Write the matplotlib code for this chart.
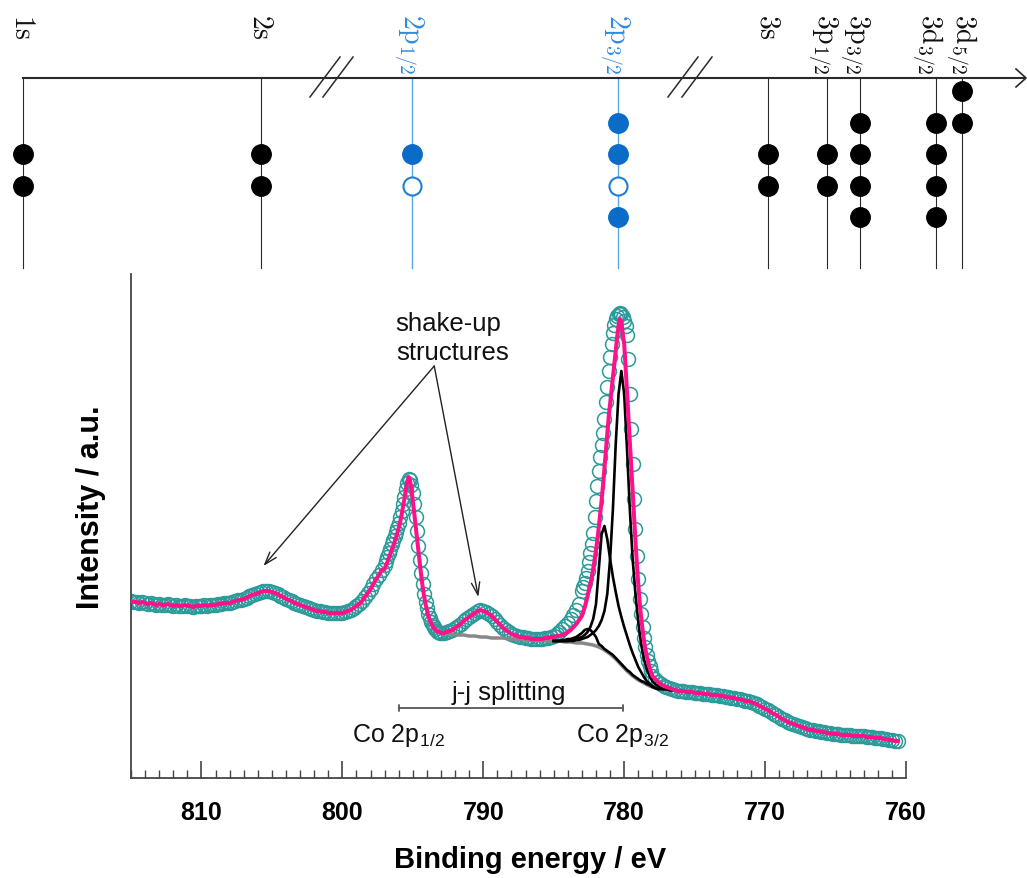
import numpy as np
import matplotlib
matplotlib.use("Agg")
import matplotlib.pyplot as plt
from matplotlib.ticker import MultipleLocator

plt.rcParams['mathtext.fontset'] = 'cm'
SANS = 'Liberation Sans'

# ---------------- data: Co 2p spectrum (intensity in a.u.) ----------------
# segment A: 815.0 -> 797.2 eV, step 0.2
data_A = [177, 176, 176, 175, 176, 175, 174, 175, 174, 173,
          174, 173, 173, 174, 173, 172, 173, 172, 172, 173,
          172, 172, 171, 172, 172, 172, 173, 172, 173, 173,
          173, 174, 174, 175, 175, 175, 176, 177, 178, 178,
          179, 180, 182, 183, 184, 185, 186, 187, 187, 187,
          186, 185, 184, 182, 181, 179, 178, 177, 175, 174,
          173, 172, 171, 170, 169, 168, 167, 167, 166, 166,
          165, 165, 165, 165, 165, 165, 166, 167, 168, 170,
          172, 174, 177, 181, 185, 189, 194, 199, 203, 208]
# segment B: 797.0 -> 793.1 eV, step 0.1
data_B = [213, 217, 221, 225, 229, 234, 238, 242, 246, 250,
          255, 261, 267, 274, 281, 289, 295, 299, 298, 293,
          285, 274, 261, 247, 232, 218, 205, 194, 184, 176,
          170, 164, 160, 156, 153, 151, 149, 147, 146, 145]
fit_B = [209, 213, 216, 220, 224, 228, 232, 236, 240, 245,
         250, 256, 263, 271, 279, 288, 296, 301, 298, 289,
         277, 265, 252, 239, 226, 214, 202, 191, 182, 174,
         168, 162, 158, 155, 152, 150, 148, 147, 146, 146]
# segment C: 793.0 -> 783.2 eV, step 0.2
data_C = [145, 145, 146, 147, 148, 150, 152, 154, 157, 159,
          161, 163, 165, 167, 168, 167, 166, 164, 162, 159,
          156, 153, 150, 148, 146, 144, 143, 142, 141, 141,
          140, 140, 139, 139, 139, 139, 139, 140, 140, 141,
          142, 144, 146, 149, 152, 155, 159, 163, 168, 174]
fit_C = [145, 145, 146, 147, 148, 150, 152, 154, 157, 159,
         161, 163, 165, 167, 168, 167, 166, 164, 162, 159,
         156, 153, 150, 148, 146, 144, 143, 142, 141, 141,
         140, 140, 139, 139, 139, 139, 139, 140, 140, 141,
         141, 142, 142, 143, 144, 146, 148, 151, 154, 158]
# segment D: 783.0 -> 778.1 eV, step 0.1
data_D = [187, 191, 195, 200, 207, 216, 225, 234, 245, 261,
          277, 292, 307, 321, 333, 345, 359, 376, 391, 407,
          421, 434, 445, 453, 459, 462, 464, 465, 464, 461,
          457, 452, 443, 419, 384, 349, 314, 279, 249, 222,
          199, 179, 164, 151, 140, 131, 123, 117, 112, 107]
fit_D = [162, 166, 171, 176, 182, 188, 194, 201, 209, 218,
         228, 239, 251, 264, 278, 293, 310, 327, 344, 361,
         374, 386, 399, 413, 427, 441, 452, 459, 457, 444,
         434, 411, 386, 361, 336, 311, 286, 261, 237, 214,
         194, 176, 161, 149, 138, 129, 122, 116, 111, 106]
# segment E: 778.0 -> 760.6 eV, step 0.2
data_E = [102, 99, 96, 94, 92, 91, 90, 89, 88, 87,
          87, 87, 86, 86, 86, 85, 85, 85, 84, 84,
          84, 83, 83, 83, 82, 82, 81, 81, 80, 80,
          79, 79, 78, 77, 77, 76, 75, 74, 72, 71,
          69, 68, 66, 64, 63, 61, 59, 58, 56, 55,
          54, 53, 52, 51, 50, 49, 48, 48, 47, 47,
          46, 46, 45, 45, 44, 44, 44, 43, 43, 43,
          43, 42, 42, 42, 42, 42, 41, 41, 41, 40,
          40, 40, 39, 39, 38, 38, 37, 37]

# fitted components (785.0 -> 776.6 eV, step 0.2), drawn on top of background
comp_1 = [137, 137, 137, 137, 137, 137, 137, 137, 138, 138,
          139, 140, 141, 143, 145, 148, 152, 158, 167, 184,
          219, 269, 334, 384, 407, 384, 329, 269, 219, 184,
          156, 134, 119, 109, 102, 97, 94, 92, 90, 89,
          89, 88, 88]
comp_2 = [137, 137, 137, 137, 137, 137, 138, 138, 139, 140,
          141, 143, 146, 151, 159, 174, 209, 244, 252, 239,
          219, 201, 186, 172, 161, 151, 142, 133, 125, 118,
          111, 106, 101, 97, 94, 92, 90, 89, 89, 89,
          89, 88, 88]
comp_3 = [137, 137, 137, 138, 138, 139, 139, 140, 141, 143,
          145, 148, 149, 148, 145, 141, 134, 132, 129, 127,
          125, 123, 120, 117, 114, 111, 108, 106, 103, 101,
          99, 97, 96, 94, 93, 91, 90, 89, 89, 89,
          89, 88, 88]
# Shirley background (793.4 -> 776.6 eV, step 0.4)
background = [147, 145, 144, 144, 143, 143, 142, 142, 141, 141,
              140, 140, 140, 139, 139, 139, 138, 138, 138, 138,
              137, 137, 137, 136, 136, 135, 135, 134, 133, 131,
              128, 124, 119, 113, 107, 102, 98, 95, 92, 90,
              89, 88, 88]

x_ticks = [810, 800, 790, 780, 770, 760]

# ---------------- data: energy level diagram ----------------
level_labels = [r'$\mathrm{1s}$', r'$\mathrm{2s}$', r'$\mathrm{2p}_{1/2}$',
                r'$\mathrm{2p}_{3/2}$', r'$\mathrm{3s}$', r'$\mathrm{3p}_{1/2}$',
                r'$\mathrm{3p}_{3/2}$', r'$\mathrm{3d}_{3/2}$', r'$\mathrm{3d}_{5/2}$']
level_occupation = [[1, 1], [1, 1], [1, 0], [1, 1, 0, 1], [1, 1], [1, 1],
                    [1, 1, 1, 1], [1, 1, 1, 1], [1, 1]]
level_first_slot = [2, 2, 2, 1, 2, 2, 1, 1, 0]
level_highlight = [0, 0, 1, 1, 0, 0, 0, 0, 0]

# ---------------- energy grids ----------------
E_A = 815.0 - 0.2 * np.arange(len(data_A))
E_B = 797.0 - 0.1 * np.arange(len(data_B))
E_C = 793.0 - 0.2 * np.arange(len(data_C))
E_D = 783.0 - 0.1 * np.arange(len(data_D))
E_E = 778.0 - 0.2 * np.arange(len(data_E))
energy = np.concatenate([E_A, E_B, E_C, E_D, E_E])
counts = np.concatenate([data_A, data_B, data_C, data_D, data_E])
envelope = np.concatenate([data_A, fit_B, fit_C, fit_D, data_E])
E_comp = 785.0 - 0.2 * np.arange(len(comp_1))
E_bg = 793.4 - 0.4 * np.arange(len(background))

# ---------------- figure ----------------
W, H = 1027, 879
fig = plt.figure(figsize=(W / 100, H / 100), dpi=100)

# top diagram in pixel coordinates
ax0 = fig.add_axes([0, 0, 1, 1])
ax0.set_xlim(0, W)
ax0.set_ylim(H, 0)
ax0.axis('off')

level_x = [22.7, 261, 411.7, 618.3, 768.3, 827.3, 860, 936, 962]
label_dx = [0, 0, -3, -3, 0, -4, -5, -9, -1]
slot_y = [92, 123.5, 155, 186.5, 218]
dark = '#2a2a2a'
blue_line = '#5aa6e6'
blue_dot = '#0a6cc6'
blue_text = '#2e8ae0'

ax0.plot([22, 1025], [79, 79], color=dark, lw=1.5, solid_capstyle='butt')
ax0.plot([1016, 1026, 1016], [70, 79, 88], color=dark, lw=1.2)
for x0 in (310, 323, 668, 682):
    ax0.plot([x0, x0 + 30], [98, 58], color=dark, lw=1.1)

for i, lab in enumerate(level_labels):
    x = level_x[i]
    hl = level_highlight[i]
    ax0.plot([x, x], [79, 269], color=blue_line if hl else dark,
             lw=1.0 if hl else 0.8, zorder=1)
    for k, occ in enumerate(level_occupation[i]):
        y = slot_y[level_first_slot[i] + k]
        if hl:
            if occ:
                ax0.plot(x, y, 'o', ms=14, mfc=blue_dot, mec=blue_dot, zorder=3)
            else:
                ax0.plot(x, y, 'o', ms=13, mfc='white', mec='#1f7ed2', mew=1.5, zorder=3)
        else:
            ax0.plot(x, y, 'o', ms=14, mfc='black', mec='black', zorder=3)
    ax0.text(x + label_dx[i], 14, lab, rotation=-90, ha='center', va='top',
             fontsize=20, color=blue_text if hl else '#111111')

# spectrum axes
ax = fig.add_axes([131 / W, 100 / H, 775 / W, 504 / H])
ax.patch.set_alpha(0)
ax.set_xlim(815, 760)
ax.set_ylim(0, 504)

teal = '#2b9a9a'
ax.plot(energy, counts, 'o', ms=10, mfc='none', mec=teal, mew=1.1, zorder=2)
ax.plot(E_bg, background, color='#888888', lw=2.5, zorder=3)
for comp in (comp_3, comp_2, comp_1):
    ax.plot(E_comp, comp, color='black', lw=1.9, zorder=4)
ax.plot(energy, envelope, color='#ff1289', lw=2.9, zorder=5)

for s in ('top', 'right'):
    ax.spines[s].set_visible(False)
for s in ('left', 'bottom'):
    ax.spines[s].set_color('#444444')
    ax.spines[s].set_linewidth(1.3)
ax.set_yticks([])
ax.set_xticks(x_ticks)
ax.xaxis.set_minor_locator(MultipleLocator(1))
ax.tick_params(axis='x', which='major', direction='in', length=12.5, width=1.2,
               color='#444444', pad=16)
ax.tick_params(axis='x', which='minor', direction='in', length=5.5, width=1.0,
               color='#444444')
for t in ax.get_xticklabels():
    t.set_fontfamily(SANS)
    t.set_fontsize(18)
    t.set_fontweight('bold')

ax.set_xlabel('Binding energy / eV', fontweight='bold', fontfamily=SANS, fontsize=21)
ax.xaxis.set_label_coords(0.515, -0.133)
ax.set_ylabel('Intensity / a.u.', fontweight='bold', fontfamily=SANS, fontsize=22)
ax.yaxis.set_label_coords(-0.032, 0.54)

# annotations
ax.text(792.48, 448, 'shake-up', ha='center', va='baseline', fontfamily=SANS,
        fontsize=18.5, color='#111111')
ax.text(792.2, 419, 'structures', ha='center', va='baseline', fontfamily=SANS,
        fontsize=18.5, color='#111111')
arrow_kw = dict(arrowstyle='->,head_length=0.9,head_width=0.3', color='#222222', lw=1.0,
                shrinkA=0, shrinkB=0)
ax.annotate('', xy=(805.6, 212), xytext=(793.48, 412), arrowprops=arrow_kw)
ax.annotate('', xy=(790.35, 181), xytext=(793.48, 412), arrowprops=arrow_kw)

ax.annotate('', xy=(780.1, 70), xytext=(796.0, 70),
            arrowprops=dict(arrowstyle='|-|,widthA=0.2,widthB=0.2', color='#555555',
                            lw=1.3, shrinkA=0, shrinkB=0))
ax.text(788.2, 79, 'j-j splitting', ha='center', va='baseline', fontfamily=SANS,
        fontsize=18.5, color='#111111')
ax.text(796.0, 37, r'Co 2p$_{\mathregular{1/2}}$', ha='center', va='baseline',
        fontfamily=SANS, fontsize=18, color='#111111')
ax.text(780.1, 37, r'Co 2p$_{\mathregular{3/2}}$', ha='center', va='baseline',
        fontfamily=SANS, fontsize=18, color='#111111')

fig.savefig('out.png', dpi=100)
